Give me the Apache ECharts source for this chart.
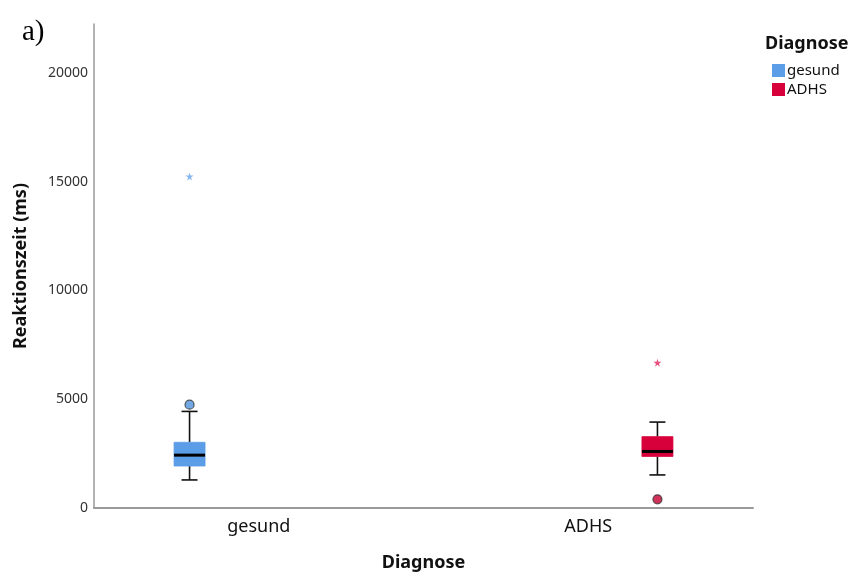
<!DOCTYPE html>
<html>
<head>
<meta charset="utf-8">
<script src="https://cdn.jsdelivr.net/npm/echarts@6/dist/echarts.min.js"></script>
<style>
  html, body { margin: 0; padding: 0; background: #fff; }
  #chart { width: 851px; height: 577px; }
</style>
</head>
<body>
<div id="chart"></div>
<script>
// Reaction times (ms) per diagnosis group
const categories = ['gesund', 'ADHS'];
const seriesNames = ['gesund', 'ADHS'];
// [min whisker, Q1, median, Q3, max whisker]
const gesundBox = [1290, 1930, 2430, 3020, 4440];
const adhsBox = [1520, 2370, 2600, 3280, 3950];
// outliers (circles) and extreme values (stars)
const gesundOutliers = [4750];
const gesundExtremes = [15240];
const adhsOutliers = [400];
const adhsExtremes = [6680];
const yTicks = [0, 5000, 10000, 15000, 20000];

const colors = { gesund: '#5b9de6', ADHS: '#d8003b' };
const starColors = { gesund: '#6aa6ea', ADHS: '#e0245a' };
const outlierFill = { gesund: '#4f93df', ADHS: '#c4002f' };
const font = '"Noto Sans", sans-serif';

const gridLeft = 94, gridRight = 98;
const plotWidth = 851 - gridLeft - gridRight;
const bandWidth = plotWidth / categories.length;
// clustered layout: each group's box sits in its own slot of the category band
const slotShift = 0.21;
const slotOffset = [-slotShift, slotShift];

const starPath = 'path://M50,0 L61,35 L98,35 L68,57 L79,91 L50,70 L21,91 L32,57 L2,35 L39,35 Z';

function boxRender(seriesIdx) {
  return function (params, api) {
    const cat = api.value(0);
    const center = api.coord([cat, 0]);
    const x = center[0] + slotOffset[seriesIdx] * api.size([1, 0])[0];
    const yLow = api.coord([cat, api.value(1)])[1];
    const yQ1 = api.coord([cat, api.value(2)])[1];
    const yMed = api.coord([cat, api.value(3)])[1];
    const yQ3 = api.coord([cat, api.value(4)])[1];
    const yHigh = api.coord([cat, api.value(5)])[1];
    const halfBox = 15.5, halfCap = 8;
    const line = { stroke: '#111', lineWidth: 1.6 };
    const color = api.visual('color');
    return {
      type: 'group',
      children: [
        { type: 'line', shape: { x1: x, y1: yHigh, x2: x, y2: yQ3 }, style: line },
        { type: 'line', shape: { x1: x, y1: yQ1, x2: x, y2: yLow }, style: line },
        { type: 'line', shape: { x1: x - halfCap, y1: yHigh, x2: x + halfCap, y2: yHigh }, style: line },
        { type: 'line', shape: { x1: x - halfCap, y1: yLow, x2: x + halfCap, y2: yLow }, style: line },
        { type: 'rect', shape: { x: x - halfBox, y: yQ3, width: halfBox * 2, height: yQ1 - yQ3 },
          style: { fill: color, stroke: color, lineWidth: 0.8 } },
        { type: 'line', shape: { x1: x - halfBox, y1: yMed, x2: x + halfBox, y2: yMed },
          style: { stroke: '#000', lineWidth: 3 } }
      ]
    };
  };
}

function boxSeries(name, idx, box) {
  return {
    name: name,
    type: 'custom',
    renderItem: boxRender(idx),
    itemStyle: { color: colors[name] },
    encode: { x: 0, y: [1, 2, 3, 4, 5] },
    data: [[idx].concat(box)],
    z: 3
  };
}

function pointSeries(name, idx, values, kind) {
  const star = kind === 'extreme';
  return {
    name: name,
    type: 'scatter',
    symbol: star ? starPath : 'circle',
    symbolSize: star ? 8 : 9,
    symbolOffset: [slotOffset[idx] * bandWidth, 0],
    itemStyle: star
      ? { color: starColors[name] }
      : { color: outlierFill[name], borderColor: '#333', borderWidth: 1.2 },
    data: values.map(v => [categories[idx], v]),
    z: 4
  };
}

const chart = echarts.init(document.getElementById('chart'), null, { renderer: 'canvas' });
chart.setOption({
  animation: false,
  backgroundColor: '#fff',
  title: [
    { text: 'a)', left: 17, top: 13,
      textStyle: { fontFamily: '"Liberation Serif", serif', fontSize: 29, fontWeight: 'normal', color: '#000' } },
    { text: 'Diagnose', left: 760, top: 30,
      textStyle: { fontFamily: font, fontSize: 18, fontWeight: 'bold', color: '#111' } }
  ],
  legend: {
    data: seriesNames,
    orient: 'vertical',
    left: 767, top: 58,
    itemWidth: 13, itemHeight: 13, itemGap: 4,
    icon: 'rect',
    textStyle: { fontFamily: font, fontSize: 15, color: '#111', padding: [0, 0, 0, -3] }
  },
  grid: { left: gridLeft, right: gridRight, top: 24, bottom: 62 },
  xAxis: {
    type: 'category',
    data: categories,
    name: 'Diagnose',
    nameLocation: 'middle',
    nameGap: 46,
    nameTextStyle: { fontFamily: font, fontSize: 18, fontWeight: 'bold', color: '#111' },
    axisLine: { lineStyle: { color: '#9a9a9a', width: 2 } },
    axisTick: { show: false },
    axisLabel: { fontFamily: font, fontSize: 18, color: '#111', margin: 10 },
    splitLine: { show: false }
  },
  yAxis: {
    type: 'value',
    min: 0, max: 22250, interval: 5000,
    name: 'Reaktionszeit (ms)',
    nameLocation: 'middle',
    nameGap: 64,
    nameTextStyle: { fontFamily: font, fontSize: 18, fontWeight: 'bold', color: '#111' },
    axisLine: { show: true, lineStyle: { color: '#9a9a9a', width: 1.5 } },
    axisTick: { show: false },
    axisLabel: {
      fontFamily: font, fontSize: 14, color: '#333', margin: 6, showMaxLabel: false,
      formatter: v => (yTicks.indexOf(v) >= 0 ? String(v) : '')
    },
    splitLine: { show: false }
  },
  series: [
    boxSeries('gesund', 0, gesundBox),
    boxSeries('ADHS', 1, adhsBox),
    pointSeries('gesund', 0, gesundOutliers, 'outlier'),
    pointSeries('gesund', 0, gesundExtremes, 'extreme'),
    pointSeries('ADHS', 1, adhsOutliers, 'outlier'),
    pointSeries('ADHS', 1, adhsExtremes, 'extreme')
  ]
});
</script>
</body>
</html>
